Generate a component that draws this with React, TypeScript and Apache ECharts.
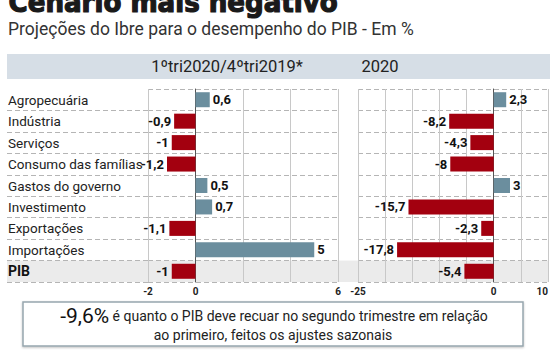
import React, { useEffect, useRef } from "react";
import * as echarts from "echarts";

const categories = [
  "Agropecuária",
  "Indústria",
  "Serviços",
  "Consumo das famílias",
  "Gastos do governo",
  "Investimento",
  "Exportações",
  "Importações",
  "PIB",
];
const q1Values = [0.6, -0.9, -1, -1.2, 0.5, 0.7, -1.1, 5, -1];
const y2020Values = [2.3, -8.2, -4.3, -8, 3, -15.7, -2.3, -17.8, -5.4];
const leftTickLabels = [-2, 0, 6];
const rightTickLabels = [-25, 0, 10];
const leftHeader = "1ºtri2020/4ºtri2019*";
const rightHeader = "2020";
const title = "Cenário mais negativo";
const subtitle = "Projeções do Ibre para o desempenho do PIB - Em %";
const noteBig = "-9,6%";
const noteLine1 = " é quanto o PIB deve recuar no segundo trimestre em relação";
const noteLine2 = "ao primeiro, feitos os ajustes sazonais";

const POS = "#6b8e9e";
const NEG = "#a3000f";
const BAND = "#ebebeb";
const FONT = "Roboto, 'Liberation Sans', sans-serif";
const NARROW = "'Liberation Sans Narrow', 'DejaVu Sans Condensed', sans-serif";

const TOP = 89;
const HEIGHT = 193;

function fmt(v: number) {
  return String(v).replace(".", ",");
}

function barData(values: number[]) {
  return values.map((v) => ({
    value: v,
    itemStyle: { color: v >= 0 ? POS : NEG },
    label: { position: v >= 0 ? "right" : "left" },
  }));
}

const bandColors = categories.map((c) => (c === "PIB" ? BAND : "rgba(0,0,0,0)"));

function catAxis(gridIndex: number, extra: any = {}) {
  return {
    type: "category",
    gridIndex,
    data: categories,
    inverse: true,
    axisTick: { show: false },
    axisLabel: { show: false },
    axisLine: { show: false },
    splitLine: {
      show: true,
      lineStyle: { color: "#b5b5b5", type: [5, 3], width: 1 },
    },
    splitArea: { show: true, areaStyle: { color: bandColors } },
    ...extra,
  };
}

function valAxis(gridIndex: number, min: number, max: number, interval: number, shown: number[], alignMax?: string) {
  return {
    type: "value",
    gridIndex,
    min,
    max,
    interval,
    axisLine: { show: false },
    axisTick: { show: false },
    splitLine: { show: true, lineStyle: { color: "#c8c8c8", width: 1 } },
    axisLabel: {
      margin: 4,
      fontSize: 10,
      fontWeight: "bold",
      color: "#222",
      fontFamily: FONT,
      formatter: (v: number) => (shown.includes(v) ? fmt(v) : ""),
      alignMaxLabel: alignMax,
    },
  };
}

const labelStyle = {
  show: true,
  distance: 3,
  fontSize: 13,
  fontWeight: "bold",
  color: "#111",
  fontFamily: FONT,
  formatter: (p: any) => fmt(p.value),
};

export default function App() {
  const ref = useRef<HTMLDivElement>(null);
  useEffect(() => {
    if (!ref.current) return;
    const chart = echarts.init(ref.current, undefined, { renderer: "svg" });
    chart.setOption({
      animation: false,
      backgroundColor: "#ffffff",
      grid: [
        { left: 7, width: 141, top: TOP, height: HEIGHT },
        { left: 148, width: 190, top: TOP, height: HEIGHT },
        { left: 358, width: 190, top: TOP, height: HEIGHT },
      ],
      xAxis: [
        { type: "value", gridIndex: 0, min: 0, max: 1, show: false },
        valAxis(1, -2, 6, 2, leftTickLabels),
        valAxis(2, -25, 10, 5, rightTickLabels, "right"),
      ],
      yAxis: [
        catAxis(0, {
          splitLine: {
            show: true,
            interval: (i: number) => i > 0,
            lineStyle: { color: "#b5b5b5", type: [5, 3], width: 1 },
          },
          axisLabel: {
            show: true,
            inside: true,
            margin: 1,
            fontSize: 13.5,
            color: "#222",
            fontFamily: FONT,
            formatter: (v: string) => (v === "PIB" ? "{b|PIB}" : v),
            rich: { b: { fontWeight: "bold", fontSize: 14, color: "#111", fontFamily: FONT } },
          },
        }),
        catAxis(1, { axisLine: { show: true, onZero: true, lineStyle: { color: "#555", width: 1 } } }),
        catAxis(2, { axisLine: { show: true, onZero: true, lineStyle: { color: "#555", width: 1 } } }),
      ],
      series: [
        {
          type: "bar",
          xAxisIndex: 1,
          yAxisIndex: 1,
          barWidth: "70%",
          data: barData(q1Values),
          label: labelStyle,
        },
        {
          type: "bar",
          xAxisIndex: 2,
          yAxisIndex: 2,
          barWidth: "70%",
          data: barData(y2020Values),
          label: labelStyle,
        },
      ],
      graphic: [
        {
          type: "text",
          left: 8,
          top: -13,
          style: {
            text: title,
            font: `bold 29px ${NARROW}`,
            fill: "#1a1a1a",
            stroke: "#1a1a1a",
            lineWidth: 1.2,
          },
        },
        {
          type: "text",
          left: 8,
          top: 20,
          style: {
            text: subtitle,
            font: `17.5px ${FONT}`,
            fill: "#333",
          },
        },
        {
          type: "rect",
          shape: { x: 7, y: 54, width: 543, height: 25 },
          style: { fill: "#d6dee6" },
          z: -1,
        },
        {
          type: "text",
          x: 227,
          y: 66,
          style: {
            text: leftHeader,
            font: `16.5px ${FONT}`,
            fill: "#222",
            align: "center",
            verticalAlign: "middle",
          },
        },
        {
          type: "text",
          x: 380,
          y: 66,
          style: {
            text: rightHeader,
            font: `16.5px ${FONT}`,
            fill: "#222",
            align: "center",
            verticalAlign: "middle",
          },
        },
        {
          type: "rect",
          shape: { x: 338, y: TOP + (HEIGHT * 8) / 9, width: 20, height: HEIGHT / 9 },
          style: { fill: BAND },
          z: -1,
        },
        {
          type: "rect",
          shape: { x: 23, y: 302, width: 500, height: 44 },
          style: {
            fill: "#fff",
            stroke: "#97a6ae",
            lineWidth: 1.5,
            shadowBlur: 2,
            shadowColor: "rgba(0,0,0,0.25)",
            shadowOffsetY: 1,
          },
        },
        {
          type: "text",
          x: 274,
          y: 316,
          z: 10,
          style: {
            text: `{big|${noteBig}}{n|${noteLine1}}`,
            align: "center",
            verticalAlign: "middle",
            rich: {
              big: { fontSize: 21, fontFamily: FONT, fill: "#111", color: "#111" },
              n: { fontSize: 14, fontFamily: FONT, fill: "#222", color: "#222" },
            },
          },
        },
        {
          type: "text",
          x: 273,
          y: 335,
          z: 10,
          style: {
            text: noteLine2,
            font: `14px ${FONT}`,
            fill: "#222",
            align: "center",
            verticalAlign: "middle",
          },
        },
      ],
    });
    return () => chart.dispose();
  }, []);
  return (
    <div
      ref={ref}
      style={{ position: "fixed", left: 0, top: 0, width: 560, height: 350 }}
    />
  );
}
